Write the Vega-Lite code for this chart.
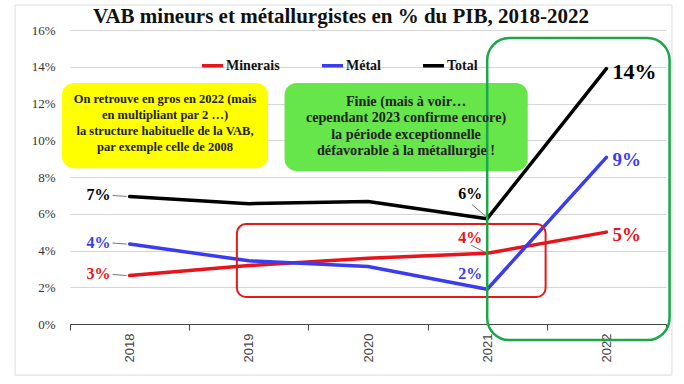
{
  "$schema": "https://vega.github.io/schema/vega-lite/v6.json",
  "autosize": {"type": "none"},
  "width": 596,
  "height": 294,
  "padding": {"left": 70, "top": 30, "right": 18, "bottom": 60},
  "background": "white",
  "config": {
    "view": {"stroke": null},
    "legend": {"labelFont": "Liberation Serif", "labelFontSize": 14, "labelFontWeight": "bold", "labelColor": "#111111"}
  },
  "title": {
    "text": "VAB mineurs et métallurgistes en % du PIB, 2018-2022",
    "font": "Liberation Serif",
    "fontSize": 21,
    "fontWeight": "bold",
    "color": "#111111",
    "anchor": "middle",
    "frame": "group",
    "dx": -27,
    "dy": 26,
    "offset": 4
  },
  "datasets": {
    "series": [
      {"year": 2018, "serie": "Minerais", "value": 0.0264},
      {"year": 2019, "serie": "Minerais", "value": 0.0318},
      {"year": 2020, "serie": "Minerais", "value": 0.0358},
      {"year": 2021, "serie": "Minerais", "value": 0.0385},
      {"year": 2022, "serie": "Minerais", "value": 0.0500},
      {"year": 2018, "serie": "Métal", "value": 0.0435},
      {"year": 2019, "serie": "Métal", "value": 0.0344},
      {"year": 2020, "serie": "Métal", "value": 0.0313},
      {"year": 2021, "serie": "Métal", "value": 0.0189},
      {"year": 2022, "serie": "Métal", "value": 0.0907},
      {"year": 2018, "serie": "Total", "value": 0.0694},
      {"year": 2019, "serie": "Total", "value": 0.0655},
      {"year": 2020, "serie": "Total", "value": 0.0667},
      {"year": 2021, "serie": "Total", "value": 0.0573},
      {"year": 2022, "serie": "Total", "value": 0.1390}
    ],
    "frame": [
      {"year": 2017.039, "year2": 2022.55, "value": 0.1736, "value2": -0.0278}
    ],
    "yellow": [
      {"year": 2017.433, "year2": 2019.161, "value": 0.1311, "value2": 0.0847}
    ],
    "greenfill": [
      {"year": 2019.30, "year2": 2021.34, "value": 0.1311, "value2": 0.0833}
    ],
    "redbox": [
      {"year": 2018.90, "year2": 2021.49, "value": 0.0544, "value2": 0.0147}
    ],
    "greenbox": [
      {"year": 2021.0, "year2": 2022.53, "value": 0.1556, "value2": -0.0087}
    ],
    "notesYellow": [
      {"year": 2018.297, "value": 0.1224, "lines": ["On retrouve en gros en 2022 (mais", "en multipliant par 2 …)", "la structure habituelle de la VAB,", "par exemple celle de 2008"]}
    ],
    "notesGreen": [
      {"year": 2020.319, "value": 0.1208, "lines": ["Finie (mais à voir…", "cependant 2023 confirme encore)", "la période exceptionnelle", "défavorable à la métallurgie !"]}
    ]
  },
  "encoding": {
    "x": {
      "field": "year",
      "type": "quantitative",
      "scale": {"domain": [2017.5, 2022.5], "nice": false, "zero": false},
      "axis": {
        "title": null,
        "values": [2017.5, 2018.5, 2019.5, 2020.5, 2021.5, 2022.5],
        "labelExpr": "datum.value < 2022 ? format(datum.value + 0.5, 'd') : ''",
        "labelOffset": 59.6,
        "ticks": true,
        "tickSize": 6,
        "tickWidth": 1,
        "tickColor": "#444444",
        "domainColor": "#444444",
        "grid": false,
        "labelAngle": 270,
        "labelFont": "Liberation Sans",
        "labelFontSize": 13,
        "labelColor": "#444444",
        "labelPadding": 3,
        "labelFlush": false,
        "labelOverlap": false,
        "labelBound": false
      }
    },
    "y": {
      "field": "value",
      "type": "quantitative",
      "scale": {"domain": [0, 0.16], "nice": false},
      "axis": {
        "title": null,
        "values": [0, 0.02, 0.04, 0.06, 0.08, 0.1, 0.12, 0.14, 0.16],
        "format": ".0%",
        "domain": false,
        "ticks": false,
        "grid": true,
        "gridColor": "#d4d4d4",
        "gridWidth": 1,
        "gridOpacity": 1,
        "labelFont": "Liberation Serif",
        "labelFontSize": 13,
        "labelColor": "#333333",
        "labelPadding": 15,
        "labelOverlap": false
      }
    }
  },
  "layer": [
    {
      "data": {"name": "frame"},
      "mark": {"type": "rect", "fill": null, "stroke": "#dddddd", "strokeWidth": 1},
      "encoding": {"x2": {"field": "year2"}, "y2": {"field": "value2"}}
    },
    {
      "data": {"name": "yellow"},
      "mark": {"type": "rect", "fill": "#ffff00", "cornerRadius": 12},
      "encoding": {"x2": {"field": "year2"}, "y2": {"field": "value2"}}
    },
    {
      "data": {"name": "greenfill"},
      "mark": {"type": "rect", "fill": "#66e64a", "cornerRadius": 12},
      "encoding": {"x2": {"field": "year2"}, "y2": {"field": "value2"}}
    },
    {
      "data": {"name": "series"},
      "mark": {"type": "line", "strokeWidth": 3.5, "strokeCap": "round", "strokeJoin": "round"},
      "encoding": {
        "color": {
          "field": "serie",
          "type": "nominal",
          "scale": {"domain": ["Minerais", "Métal", "Total"], "range": ["#e8131b", "#3b3bf0", "#000000"]},
          "legend": {
            "title": null,
            "orient": "none",
            "legendX": 130,
            "legendY": 23,
            "direction": "horizontal",
            "symbolType": "stroke",
            "symbolSize": 440,
            "symbolStrokeWidth": 3.5,
            "labelFont": "Liberation Serif",
            "labelFontSize": 14,
            "labelFontWeight": "bold",
            "labelColor": "#111111",
            "labelOffset": 1,
            "columnPadding": 35
          }
        }
      }
    },
    {
      "data": {"name": "redbox"},
      "mark": {"type": "rect", "fill": null, "stroke": "#e31a1a", "strokeWidth": 2, "cornerRadius": 9},
      "encoding": {"x2": {"field": "year2"}, "y2": {"field": "value2"}}
    },
    {
      "data": {"name": "greenbox"},
      "mark": {"type": "rect", "fill": null, "stroke": "#1ca64c", "strokeWidth": 2.5, "cornerRadius": 22},
      "encoding": {"x2": {"field": "year2"}, "y2": {"field": "value2"}}
    },
    {
      "data": {"name": "series"},
      "transform": [{"filter": "datum.year === 2018"}],
      "mark": {"type": "rule", "stroke": "#777777", "strokeWidth": 1, "xOffset": -17, "yOffset": -1, "x2Offset": -3, "y2Offset": 0},
      "encoding": {"x2": {"field": "year"}, "y2": {"field": "value"}}
    },
    {
      "data": {"name": "series"},
      "transform": [{"filter": "datum.year === 2021 && datum.serie === 'Total'"}],
      "mark": {"type": "rule", "stroke": "#777777", "strokeWidth": 1, "xOffset": -15, "yOffset": -14, "x2Offset": -1, "y2Offset": -2},
      "encoding": {"x2": {"field": "year"}, "y2": {"field": "value"}}
    },
    {
      "data": {"name": "series"},
      "transform": [{"filter": "datum.year === 2021 && datum.serie === 'Minerais'"}],
      "mark": {"type": "rule", "stroke": "#777777", "strokeWidth": 1, "xOffset": -16, "yOffset": -8, "x2Offset": -2, "y2Offset": -1},
      "encoding": {"x2": {"field": "year"}, "y2": {"field": "value"}}
    },
    {
      "data": {"name": "series"},
      "transform": [{"filter": "datum.year === 2018"}],
      "mark": {"type": "text", "align": "right", "baseline": "middle", "dx": -19, "dy": -1, "font": "Liberation Serif", "fontWeight": "bold", "fontSize": 16},
      "encoding": {
        "text": {"field": "value", "type": "quantitative", "format": ".0%"},
        "color": {"field": "serie", "type": "nominal"}
      }
    },
    {
      "data": {"name": "series"},
      "transform": [{"filter": "datum.year === 2021 && datum.serie !== 'Total'"}],
      "mark": {"type": "text", "align": "center", "baseline": "middle", "dx": -17, "dy": -15, "font": "Liberation Serif", "fontWeight": "bold", "fontSize": 16},
      "encoding": {
        "text": {"field": "value", "type": "quantitative", "format": ".0%"},
        "color": {"field": "serie", "type": "nominal"}
      }
    },
    {
      "data": {"name": "series"},
      "transform": [{"filter": "datum.year === 2021 && datum.serie === 'Total'"}],
      "mark": {"type": "text", "align": "center", "baseline": "middle", "dx": -17, "dy": -25, "font": "Liberation Serif", "fontWeight": "bold", "fontSize": 16},
      "encoding": {
        "text": {"field": "value", "type": "quantitative", "format": ".0%"},
        "color": {"field": "serie", "type": "nominal"}
      }
    },
    {
      "data": {"name": "series"},
      "transform": [{"filter": "datum.year === 2022 && datum.serie !== 'Total'"}],
      "mark": {"type": "text", "align": "left", "baseline": "middle", "dx": 6, "dy": 3, "font": "Liberation Serif", "fontWeight": "bold", "fontSize": 19},
      "encoding": {
        "text": {"field": "value", "type": "quantitative", "format": ".0%"},
        "color": {"field": "serie", "type": "nominal"}
      }
    },
    {
      "data": {"name": "series"},
      "transform": [{"filter": "datum.year === 2022 && datum.serie === 'Total'"}],
      "mark": {"type": "text", "align": "left", "baseline": "middle", "dx": 6, "dy": 3, "font": "Liberation Serif", "fontWeight": "bold", "fontSize": 22},
      "encoding": {
        "text": {"field": "value", "type": "quantitative", "format": ".0%"},
        "color": {"field": "serie", "type": "nominal"}
      }
    },
    {
      "data": {"name": "notesYellow"},
      "mark": {"type": "text", "align": "center", "baseline": "middle", "font": "Liberation Serif", "fontWeight": "bold", "fontSize": 12.5, "lineHeight": 16, "color": "#222222"},
      "encoding": {"text": {"field": "lines"}}
    },
    {
      "data": {"name": "notesGreen"},
      "mark": {"type": "text", "align": "center", "baseline": "middle", "font": "Liberation Serif", "fontWeight": "bold", "fontSize": 14.2, "lineHeight": 16.4, "color": "#222222"},
      "encoding": {"text": {"field": "lines"}}
    }
  ]
}
